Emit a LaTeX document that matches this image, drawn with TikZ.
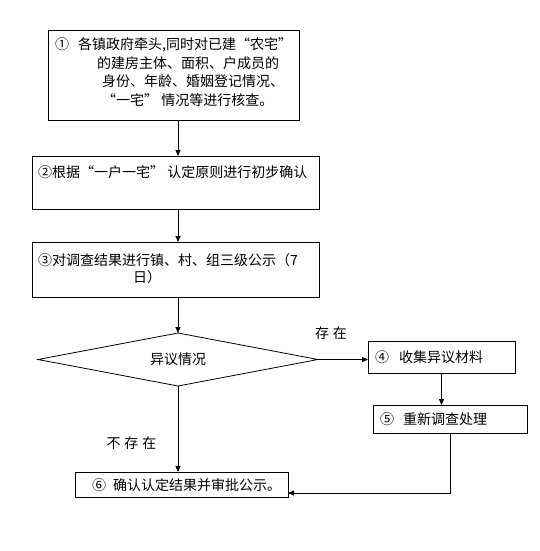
\documentclass[tikz,border=0pt]{standalone}
\usepackage{fontspec}
\setmainfont{Noto Sans CJK SC}
\usetikzlibrary{arrows.meta,shapes.geometric,calc}
\begin{document}
\begin{tikzpicture}[x=1pt,y=-1pt]
\tikzset{
 box/.style={draw, line width=0.8pt, inner sep=0pt, outer sep=0pt},
 txt/.style={anchor=base west, inner sep=0pt, font=\fontsize{14pt}{18.5pt}\selectfont, align=left},
 arr/.style={line width=0.8pt, -{Triangle[length=6pt,width=5pt]}},
 lbl/.style={inner sep=0pt, font=\fontsize{14pt}{17pt}\selectfont},
}
\fill[white] (0,0) rectangle (539,551);
\useasboundingbox (0,0) rectangle (539,551);
% boxes
\node[box, minimum width=251pt, minimum height=90pt] (b1) at (173.5,75) {};
\node[box, minimum width=287pt, minimum height=53pt] (b2) at (175.5,182.5) {};
\node[box, minimum width=287pt, minimum height=55pt] (b3) at (175.5,269.5) {};
\node[draw, diamond, aspect=5.28, minimum width=280pt, minimum height=53pt, inner sep=0pt, outer sep=0pt, line width=0.8pt, font=\fontsize{14pt}{17pt}\selectfont] (d) at (178,359.5) {异议情况};
\node[box, minimum width=147pt, minimum height=32pt] (b4) at (441.5,357) {};
\node[box, minimum width=154pt, minimum height=28pt] (b5) at (450,419) {};
\node[box, minimum width=213pt, minimum height=25pt] (b6) at (181.5,484.5) {};
% texts
\node[txt] (t1) at (55,105.3) {①\hspace{9pt}各镇政府牵头,同时对已建“农宅”\\\hspace*{42pt}的建房主体、面积、户成员的\\\hspace*{47pt}身份、年龄、婚姻登记情况、\\\hspace*{47pt}“一宅” 情况等进行核查。};
\node[txt] (t2) at (38,177.3) {②根据“一户一宅” 认定原则进行初步确认};
\node[txt, font=\fontsize{14pt}{17pt}\selectfont] (t3) at (38,282.3) {③对调查结果进行镇、村、组三级公示（7\\\hspace*{95pt}日）};
\node[txt] (t4) at (375,362.3) {④\hspace{10pt}收集异议材料};
\node[txt] (t5) at (380,424.3) {⑤\hspace{9pt}重新调查处理};
\node[txt] (t6) at (92,490.3) {⑥\hspace{7pt}确认认定结果并审批公示。};
\node[lbl] (l1) at (331,333) {存\hspace{4pt}在};
\node[lbl] (l2) at (131.5,443) {不\hspace{4pt}存\hspace{4pt}在};
% connectors
\draw[arr] (b1.south -| d.north) -- (b2.north -| d.north);
\draw[arr] (b2.south -| d.north) -- (b3.north -| d.north);
\draw[arr] (b3.south -| d.north) -- (d.north);
\draw[arr] (d.east) -- (d.east -| b4.west);
\draw[arr] (b4.south) -- (b4.south |- b5.north);
\draw[arr] (d.south) -- (b6.north -| d.south);
\draw[arr] (b5.south) |- ($(b6.south east)+(0pt,4pt)$);
\end{tikzpicture}
\end{document}
